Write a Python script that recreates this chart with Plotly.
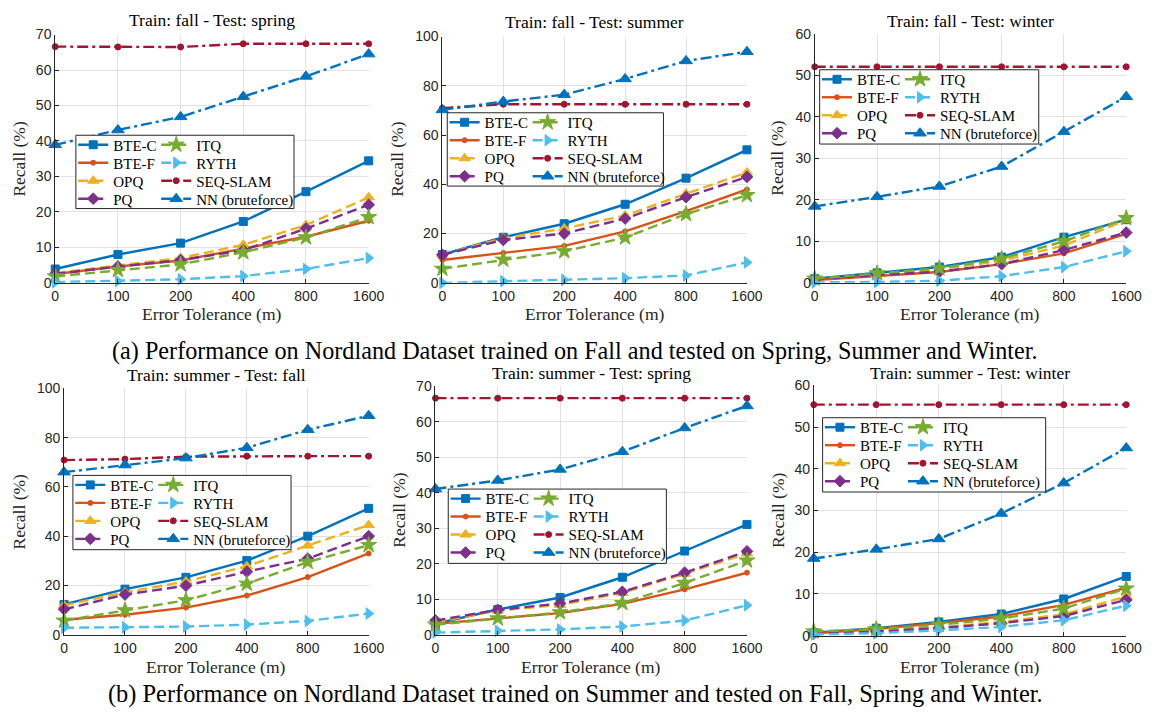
import plotly.graph_objects as go

# The page keeps the browser's default 8px body margin, so the figure is
# made 16px smaller than the 1163x725 window and all pixel positions below
# are given in window coordinates (converted with OFF).
WIN_W, WIN_H = 1163, 725
OFF = 8
W, H = WIN_W - 2 * OFF, WIN_H - 2 * OFF

tolerances = ["0", "100", "200", "400", "800", "1600"]
methods = ["BTE-C", "BTE-F", "OPQ", "PQ", "ITQ", "RYTH", "SEQ-SLAM", "NN (bruteforce)"]

fall_spring = {
    "BTE-C": [3.9, 8.0, 11.2, 17.3, 25.7, 34.4],
    "BTE-F": [2.5, 4.6, 6.3, 9.6, 13.0, 17.5],
    "OPQ": [2.8, 4.9, 7.0, 10.7, 16.3, 24.1],
    "PQ": [2.5, 4.6, 6.4, 9.2, 15.3, 22.0],
    "ITQ": [1.8, 3.6, 5.2, 8.6, 12.8, 18.5],
    "RYTH": [0.2, 0.5, 1.0, 1.9, 3.9, 7.0],
    "SEQ-SLAM": [66.6, 66.5, 66.5, 67.4, 67.4, 67.4],
    "NN (bruteforce)": [38.9, 43.1, 46.8, 52.5, 58.2, 64.5],
}
fall_summer = {
    "BTE-C": [11.5, 18.5, 24.0, 31.9, 42.5, 54.0],
    "BTE-F": [9.3, 12.1, 15.0, 20.9, 29.1, 37.9],
    "OPQ": [11.5, 18.1, 22.1, 27.3, 36.2, 44.8],
    "PQ": [11.4, 17.4, 20.0, 26.1, 34.8, 43.0],
    "ITQ": [5.7, 9.4, 12.8, 18.4, 27.9, 35.6],
    "RYTH": [0.0, 0.7, 1.2, 1.9, 3.0, 8.3],
    "SEQ-SLAM": [70.9, 72.5, 72.5, 72.5, 72.5, 72.5],
    "NN (bruteforce)": [70.2, 73.6, 76.4, 82.8, 90.1, 93.8],
}
fall_winter = {
    "BTE-C": [1.0, 2.4, 3.8, 6.2, 11.0, 15.2],
    "BTE-F": [0.7, 1.7, 2.6, 4.5, 7.1, 11.8],
    "OPQ": [0.8, 2.0, 3.3, 5.3, 9.0, 15.1],
    "PQ": [0.8, 1.9, 2.7, 4.5, 7.9, 12.1],
    "ITQ": [1.0, 2.3, 3.5, 5.8, 10.0, 15.6],
    "RYTH": [0.1, 0.2, 0.5, 1.6, 3.8, 7.6],
    "SEQ-SLAM": [52.0, 52.0, 52.0, 52.0, 52.0, 52.0],
    "NN (bruteforce)": [18.4, 20.7, 23.2, 28.0, 36.4, 44.8],
}
summer_fall = {
    "BTE-C": [12.3, 18.5, 23.3, 30.1, 40.0, 51.3],
    "BTE-F": [6.1, 8.1, 11.0, 15.9, 23.4, 33.0],
    "OPQ": [11.9, 17.2, 21.6, 27.8, 36.2, 44.5],
    "PQ": [10.3, 16.3, 19.9, 25.6, 30.9, 40.0],
    "ITQ": [5.7, 9.9, 14.0, 20.7, 29.5, 36.4],
    "RYTH": [2.8, 3.0, 3.3, 4.1, 5.6, 8.6],
    "SEQ-SLAM": [70.9, 71.3, 72.3, 72.5, 72.5, 72.5],
    "NN (bruteforce)": [66.0, 68.9, 71.7, 75.9, 83.2, 88.9],
}
summer_spring = {
    "BTE-C": [3.1, 7.1, 10.5, 16.2, 23.6, 31.1],
    "BTE-F": [3.1, 4.7, 6.1, 8.7, 12.8, 17.5],
    "OPQ": [3.5, 6.8, 8.4, 11.8, 17.2, 22.9],
    "PQ": [4.0, 7.0, 8.8, 12.1, 17.5, 23.5],
    "ITQ": [2.8, 4.6, 6.3, 8.9, 14.6, 20.9],
    "RYTH": [0.6, 1.1, 1.5, 2.3, 4.0, 8.3],
    "SEQ-SLAM": [66.7, 66.7, 66.7, 66.7, 66.7, 66.7],
    "NN (bruteforce)": [41.1, 43.5, 46.6, 51.6, 58.3, 64.5],
}
summer_winter = {
    "BTE-C": [0.7, 1.8, 3.3, 5.2, 8.8, 14.2],
    "BTE-F": [0.6, 1.6, 3.0, 4.6, 7.4, 11.5],
    "OPQ": [0.5, 1.2, 2.0, 3.3, 5.1, 9.4],
    "PQ": [0.5, 1.0, 1.8, 3.0, 4.7, 8.6],
    "ITQ": [1.0, 1.6, 2.6, 4.1, 6.5, 11.3],
    "RYTH": [0.3, 0.6, 1.3, 2.1, 3.7, 7.2],
    "SEQ-SLAM": [55.4, 55.4, 55.4, 55.4, 55.4, 55.4],
    "NN (bruteforce)": [18.5, 20.7, 23.2, 29.3, 36.6, 45.0],
}

panel_titles = [
    "Train: fall - Test: spring", "Train: fall - Test: summer", "Train: fall - Test: winter",
    "Train: summer - Test: fall", "Train: summer - Test: spring", "Train: summer - Test: winter",
]
panel_data = [fall_spring, fall_summer, fall_winter, summer_fall, summer_spring, summer_winter]
panel_ymax = [70, 100, 60, 100, 70, 60]
panel_dtick = [10, 20, 10, 20, 10, 10]

captions = [
    "(a) Performance on Nordland Dataset trained on Fall and tested on Spring, Summer and Winter.",
    "(b) Performance on Nordland Dataset trained on Summer and tested on Fall, Spring and Winter.",
]

# ---- styling / layout (window pixels) ----
colors = {"BTE-C": "#0072BD", "BTE-F": "#D95319", "OPQ": "#EDB120", "PQ": "#7E2F8E",
          "ITQ": "#77AC30", "RYTH": "#4DBEEE", "SEQ-SLAM": "#A2142F", "NN (bruteforce)": "#0072BD"}
DASHED = "10px,5px"
DASHDOT = "11px,4px,3px,4px"
dashes = {"BTE-C": "solid", "BTE-F": "solid", "OPQ": DASHED, "PQ": DASHED, "ITQ": DASHED,
          "RYTH": DASHED, "SEQ-SLAM": DASHDOT, "NN (bruteforce)": DASHDOT}
symbols = {"BTE-C": "square", "BTE-F": "circle", "OPQ": "triangle-up", "PQ": "diamond",
           "ITQ": "star", "RYTH": "triangle-right", "SEQ-SLAM": "circle", "NN (bruteforce)": "triangle-up"}
msizes = {"BTE-C": 8, "BTE-F": 5, "OPQ": 10, "PQ": 9, "ITQ": 12, "RYTH": 10, "SEQ-SLAM": 6,
          "NN (bruteforce)": 11}

# plot boxes: (x_left, x_right, y_top, y_bottom)
boxes = [(52, 371, 27, 281), (446, 756, 29, 281), (825, 1142, 26, 281),
         (61, 371, 389, 641), (439, 756, 387, 641), (824, 1142, 386, 642)]
legend_boxes = [(73, 295, 130, 205), (451, 671, 107, 182), (830, 1053, 63, 139),
                (70, 292, 478, 554), (452, 674, 492, 568), (833, 1060, 419, 495)]
title_y = [12, 14, 13, 375, 373, 373]
ylab_x = [15, 400, 787, 15, 401, 787]
xlab_y = [313, 313, 313, 674, 674, 674]
caption_y = [351, 702]
caption_size = [24.2, 24.4]

SERIF = "Liberation Serif"
SANS = "Liberation Sans"
AX = "#262626"
GRID = "#e2e2e2"

fig = go.Figure()
layout = dict(width=W, height=H, margin=dict(l=0, r=0, t=0, b=0),
              paper_bgcolor="white", plot_bgcolor="white", showlegend=True)
annotations = []
shapes = []


def fx(px):
    return (px - OFF) / W


def fy(py):
    return 1 - (py - OFF) / H


for i in range(6):
    n = i + 1
    xa = "x" if n == 1 else f"x{n}"
    ya = "y" if n == 1 else f"y{n}"
    xl, xr, yt, yb = boxes[i]
    axis_common = dict(showline=True, linecolor=AX, linewidth=1, ticks="inside", ticklen=4,
                       tickcolor=AX, showgrid=True, gridcolor=GRID, gridwidth=1, zeroline=False,
                       tickfont=dict(family=SANS, size=14, color=AX), fixedrange=True)
    layout["xaxis" if n == 1 else f"xaxis{n}"] = dict(
        type="category", categoryorder="array", categoryarray=tolerances, range=[0, 5],
        domain=[fx(xl), fx(xr)], anchor=ya, **axis_common)
    layout["yaxis" if n == 1 else f"yaxis{n}"] = dict(
        range=[0, panel_ymax[i]], dtick=panel_dtick[i], domain=[fy(yb), fy(yt)], anchor=xa,
        **axis_common)

    lbl, lbr, lbt, lbb = legend_boxes[i]
    shapes.append(dict(type="rect", xref="paper", yref="paper", x0=fx(lbl), x1=fx(lbr),
                       y0=fy(lbb), y1=fy(lbt), fillcolor="white",
                       line=dict(color=AX, width=1), layer="above"))
    for r in range(4):
        lid = i * 4 + r + 1
        key = "legend" if lid == 1 else f"legend{lid}"
        row_c = lbt + 10 + r * 18.4
        layout[key] = dict(x=fx(lbl - 2.7), xanchor="left", y=fy(row_c - 16.9), yanchor="top",
                           orientation="h", entrywidthmode="pixels",
                           bgcolor="rgba(0,0,0,0)", borderwidth=0, itemwidth=30,
                           font=dict(family=SERIF, size=15, color="black"),
                           itemclick=False, itemdoubleclick=False)

    data = panel_data[i]
    for j, m in enumerate(methods):
        lid = i * 4 + (j % 4) + 1
        fig.add_trace(go.Scatter(
            x=tolerances, y=data[m], name=m, mode="lines+markers",
            xaxis=xa, yaxis=ya, cliponaxis=False,
            legend="legend" if lid == 1 else f"legend{lid}",
            legendwidth=38 if j < 4 else 130,
            line=dict(color=colors[m], width=2.4, dash=dashes[m]),
            marker=dict(symbol=symbols[m], size=msizes[m], color=colors[m],
                        line=dict(width=1, color=colors[m])),
            hoverinfo="skip"))

    annotations.append(dict(text=panel_titles[i], xref="paper", yref="paper",
                            x=fx((xl + xr) / 2), y=fy(title_y[i]), xanchor="center",
                            yanchor="middle", showarrow=False,
                            font=dict(family=SERIF, size=17.5, color="black")))
    annotations.append(dict(text="Error Tolerance (m)", xref="paper", yref="paper",
                            x=fx((xl + xr) / 2), y=fy(xlab_y[i]), xanchor="center",
                            yanchor="middle", showarrow=False,
                            font=dict(family=SERIF, size=17.5, color=AX)))
    annotations.append(dict(text="Recall (%)", xref="paper", yref="paper",
                            x=fx(ylab_x[i]), y=fy((yt + yb) / 2), xanchor="center",
                            yanchor="middle", showarrow=False, textangle=-90,
                            font=dict(family=SERIF, size=17.5, color=AX)))

for k, cap in enumerate(captions):
    annotations.append(dict(text=cap, xref="paper", yref="paper", x=fx(581), y=fy(caption_y[k]),
                            xanchor="center", yanchor="middle", showarrow=False,
                            font=dict(family=SERIF, size=caption_size[k], color="black")))

layout["annotations"] = annotations
layout["shapes"] = shapes
fig.update_layout(**layout)
fig.write_html("out.html", config={"displayModeBar": False, "staticPlot": True})
